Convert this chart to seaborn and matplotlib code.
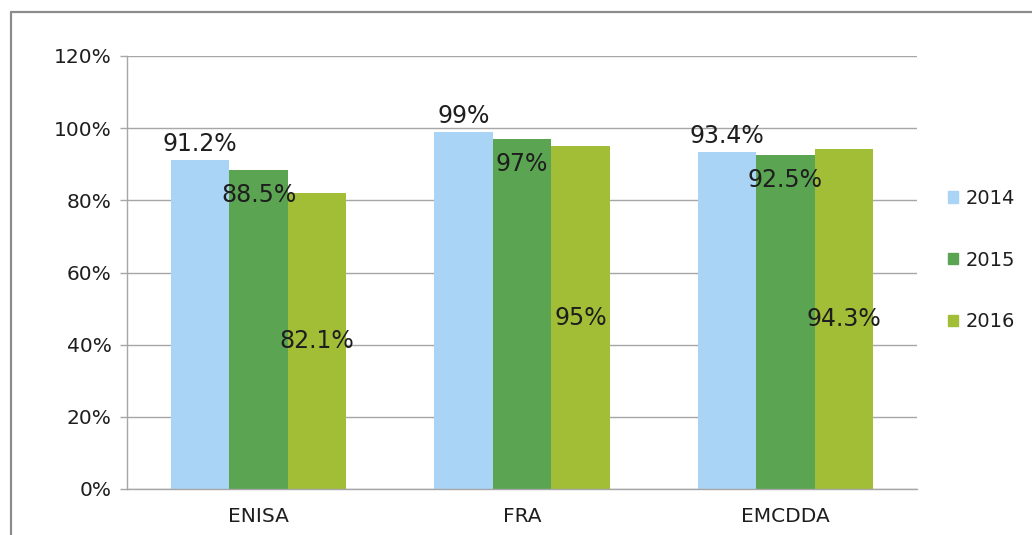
import numpy as np
import pandas as pd
import matplotlib
matplotlib.use("Agg")
import matplotlib.pyplot as plt
from matplotlib.lines import Line2D
from matplotlib.ticker import FixedLocator, PercentFormatter
import seaborn as sns

agencies = ["ENISA", "FRA", "EMCDDA"]
years = ["2014", "2015", "2016"]
v2014 = [91.2, 99, 93.4]
v2015 = [88.5, 97, 92.5]
v2016 = [82.1, 95, 94.3]
colors = ["#A9D4F5", "#5BA552", "#A2BE37"]

df = pd.DataFrame({
    "Agency": agencies * 3,
    "Year": [y for y in years for _ in agencies],
    "Value": v2014 + v2015 + v2016,
})

sns.set_style("white")
plt.rcParams["font.family"] = ["DejaVu Sans"]
text_col = "#1E1E1E"
grid_col = "#A6A6A6"

fig = plt.figure(figsize=(10.32, 5.35), dpi=100)
ax = fig.add_axes([127 / 1032, 1 - 489 / 535, (917 - 127) / 1032, (489 - 56) / 535])

sns.barplot(data=df, x="Agency", y="Value", hue="Year", palette=colors,
            width=0.665, gap=0, saturation=1, ax=ax, legend=False, errorbar=None,
            linewidth=0, edgecolor="none")

ax.set_ylim(0, 120)
ax.set_xlim(-0.5, 2.5)
ax.set_yticks(np.arange(0, 121, 20))
ax.yaxis.set_major_formatter(PercentFormatter(decimals=0))
ax.set_xlabel("")
ax.set_ylabel("")
ax.grid(axis="y", color=grid_col, linewidth=1)
ax.set_axisbelow(True)
for s in ["top", "right"]:
    ax.spines[s].set_visible(False)
for s in ["left", "bottom"]:
    ax.spines[s].set_color(grid_col)
    ax.spines[s].set_linewidth(1)

ax.xaxis.set_minor_locator(FixedLocator([-0.5, 0.5, 1.5, 2.5]))
ax.tick_params(axis="x", which="major", length=0, pad=13, labelsize=14.5, labelcolor=text_col)
ax.tick_params(axis="x", which="minor", length=5, color=grid_col, width=1, direction="out")
ax.tick_params(axis="y", length=5, color=grid_col, width=1, direction="out", pad=6,
               labelsize=14.5, labelcolor=text_col, left=True)

lab_kw = dict(fontsize=17, color=text_col, textcoords="offset pixels", ha="center")
for i, cont in enumerate(ax.containers):
    for bar in cont:
        h = bar.get_height()
        xc = bar.get_x() + bar.get_width() / 2
        txt = f"{h:g}%"
        if i == 0:
            ax.annotate(txt, (xc, h), xytext=(0, 4), va="bottom", **lab_kw)
        elif i == 1:
            ax.annotate(txt, (xc, h), xytext=(0, -13), va="top", **lab_kw)
        else:
            ax.annotate(txt, (xc, h / 2), xytext=(0, 0), va="center", **lab_kw)

handles = [plt.Rectangle((0, 0), 1, 1, color=c) for c in colors]
fig.legend(handles, years, loc="center left", bbox_to_anchor=(938 / 1032, 1 - 260 / 535),
           frameon=False, fontsize=14, labelcolor=text_col, handlelength=0.55,
           handleheight=0.55, handletextpad=0.35, labelspacing=2.2, borderpad=0)

# outer chart border
fig.add_artist(Line2D([11 / 1032, 1], [1 - 12 / 535] * 2, transform=fig.transFigure,
                      color="#8C8C8C", linewidth=1.6))
fig.add_artist(Line2D([11 / 1032] * 2, [0, 1 - 12 / 535], transform=fig.transFigure,
                      color="#8C8C8C", linewidth=1.6))

fig.savefig("out.png", dpi=100)
